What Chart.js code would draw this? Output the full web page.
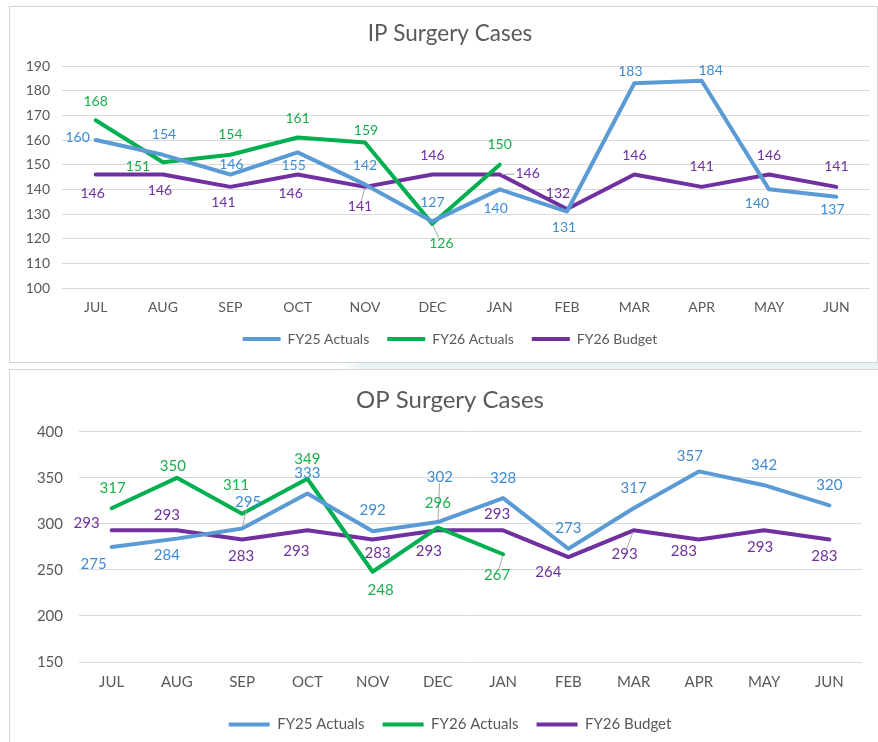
<!DOCTYPE html>
<html>
<head>
<meta charset="utf-8">
<script src="https://cdn.jsdelivr.net/npm/chart.js@4.4.1/dist/chart.umd.min.js"></script>
<style>
html,body{margin:0;padding:0;background:#fff;width:878px;height:742px;overflow:hidden;font-family:Lato,sans-serif}
.panel{position:absolute;border:1px solid #d4d4d4;box-sizing:border-box;background:#fff}
#p1{left:9px;top:6px;width:869px;height:357px}
#p2{left:9px;top:369px;width:872px;height:380px}
#strip{position:absolute;left:340px;top:363px;width:538px;height:6px;background:linear-gradient(90deg,#ffffff 0px,#e8f5f5 20px,#e8f5f5 100%)}
canvas{position:absolute}
#c1{left:9px;top:6px}
#c2{left:9px;top:370px}
</style>
</head>
<body>
<div id="strip"></div>
<div class="panel" id="p1"></div>
<div class="panel" id="p2"></div>
<canvas id="c1" width="869" height="356"></canvas>
<canvas id="c2" width="869" height="372"></canvas>
<script>
// ---------- data ----------
const months = ['JUL','AUG','SEP','OCT','NOV','DEC','JAN','FEB','MAR','APR','MAY','JUN'];
const seriesNames = ['FY25 Actuals','FY26 Actuals','FY26 Budget'];

const ipFY25   = [160,154,146,155,142,127,140,131,183,184,140,137];
const ipFY26   = [168,151,154,161,159,126,150,null,null,null,null,null];
const ipBudget = [146,146,141,146,141,146,146,132,146,141,146,141];

const opFY25   = [275,284,295,333,292,302,328,273,317,357,342,320];
const opFY26   = [317,350,311,349,248,296,267,null,null,null,null,null];
const opBudget = [293,293,283,293,283,293,293,264,293,283,293,283];

const ipAxis = {min:100, max:190, step:10};
const opAxis = {min:150, max:400, step:50};

// ---------- label placement (offsets of value labels from their points) ----------
const ipLabelOffsets = {
  fy25: [[-18,-3],[1,-20],[1,-10],[-4,13],[0,-19],[0,-19],[-4,19],[-3,16],[-4,-12],[9,-10],[-12,14],[-4,13]],
  fy26: [[0,-19],[-25,4],[0,-20],[0,-19],[1,-12],[9,20],[0,-20]],
  bud:  [[-3,19],[-3,16],[-7,16],[-7,19],[-5,20],[0,-19],[28,-1],[-9,-16],[0,-19],[0,-20],[0,-19],[0,-20]]
};
const ipLeaders = {fy25:[], fy26:[5], bud:[4,6]};
const opLabelOffsets = {
  fy25: [[-18,17],[-10,17],[6,-26],[0,-20],[0,-21],[2,-45],[0,-20],[0,-21],[0,-20],[-9,-15],[0,-20],[0,-20]],
  fy26: [[1,-20],[-4,-12],[-6,-29],[0,-20],[8,18],[0,-24],[-6,21]],
  bud:  [[-25,-7],[-10,-15],[-1,17],[-11,21],[5,14],[-9,21],[-6,-16],[-20,15],[-9,24],[-15,12],[-4,17],[-5,17]]
};
const opLeaders = {fy25:[2,5], fy26:[6], bud:[8]};

// ---------- styles ----------
const COLORS = {fy25:'#5B9BD5', fy26:'#00B050', bud:'#7030A0'};
const LABEL_COLORS = {fy25:'#3F8BD2', fy26:'#19AF4C', bud:'#7030A0'};
const TEXT = '#595959';
const GRID = '#D9D9D9';

Chart.defaults.font.family = 'Lato';

const valueLabels = {
  id: 'valueLabels',
  afterLayout(chart) {
    // let the y tick labels extend left of the axis box without being clipped
    chart.scales.y.left = 0;
  },
  afterDatasetsDraw(chart, args, opts) {
    const ctx = chart.ctx;
    chart.data.datasets.forEach((ds, i) => {
      const meta = chart.getDatasetMeta(i);
      if (!chart.isDatasetVisible(i)) return;
      ctx.save();
      ctx.font = opts.size + 'px Lato';
      ctx.textAlign = 'center';
      ctx.textBaseline = 'middle';
      meta.data.forEach((pt, j) => {
        const v = ds.data[j];
        if (v === null || v === undefined) return;
        const off = ds.labelOffsets[j];
        const lx = pt.x + off[0], ly = pt.y + off[1];
        if (ds.leaders.includes(j)) {
          const w = ctx.measureText(String(v)).width / 2 + 1, h = opts.size * 0.42;
          const vx = pt.x - lx, vy = pt.y - ly;
          const s = Math.min(vx ? w / Math.abs(vx) : Infinity, vy ? h / Math.abs(vy) : Infinity);
          if (s < 1) {
            const len = Math.hypot(vx, vy);
            ctx.strokeStyle = '#A6A6A6';
            ctx.lineWidth = 1;
            ctx.beginPath();
            ctx.moveTo(lx + vx * s, ly + vy * s);
            ctx.lineTo(pt.x - vx / len * 2, pt.y - vy / len * 2);
            ctx.stroke();
          }
        }
        ctx.fillStyle = ds.labelColor;
        ctx.fillText(String(v), lx, ly);
      });
      ctx.restore();
    });
  }
};

function makeDataset(label, data, key, offsets, leaders) {
  return {
    label, data,
    borderColor: COLORS[key], backgroundColor: COLORS[key],
    borderWidth: 4, pointRadius: 0, pointHoverRadius: 0, tension: 0,
    borderJoinStyle: 'round', borderCapStyle: 'round', spanGaps: false,
    labelColor: LABEL_COLORS[key], labelOffsets: offsets[key], leaders: leaders[key]
  };
}

function makeChart(canvasId, title, fy25, fy26, bud, axis, offsets, leaders, L) {
  return new Chart(document.getElementById(canvasId), {
    type: 'line',
    data: {
      labels: months,
      datasets: [
        makeDataset(seriesNames[0], fy25, 'fy25', offsets, leaders),
        makeDataset(seriesNames[1], fy26, 'fy26', offsets, leaders),
        makeDataset(seriesNames[2], bud, 'bud', offsets, leaders)
      ]
    },
    options: {
      responsive: false, animation: false, devicePixelRatio: 1,
      events: [],
      layout: {padding: {left: L.padLeft, right: L.padRight, top: 0, bottom: L.padBottom}},
      plugins: {
        title: {display: true, text: title, color: TEXT,
                font: {size: L.titleSize, weight: 'normal', family: 'Lato'},
                padding: {top: L.titleTop, bottom: L.titleBottom}},
        legend: {position: 'bottom',
          labels: {
            boxWidth: L.legendBox, boxHeight: 4, padding: L.legendPad, color: TEXT,
            font: {size: L.legendSize, family: 'Lato'},
            generateLabels(chart) {
              return Chart.defaults.plugins.legend.labels.generateLabels(chart)
                .map(it => Object.assign({}, it, {lineWidth: 0, fillStyle: it.strokeStyle}));
            }
          }},
        tooltip: {enabled: false},
        valueLabels: {size: L.labelSize}
      },
      scales: {
        x: {offset: true, grid: {display: false, drawTicks: false}, border: {display: false},
            ticks: {color: TEXT, font: {size: L.tickSize}, padding: L.xPad, maxRotation: 0, autoSkip: false},
            afterFit(s) { s.height = L.xHeight; }},
        y: {min: axis.min, max: axis.max,
            grid: {color: GRID, lineWidth: 1, drawTicks: false}, border: {display: false},
            ticks: {stepSize: axis.step, color: TEXT, font: {size: L.tickSize}, padding: L.yPad},
            afterFit(s) { s.width = L.yWidth; }}
      }
    },
    plugins: [valueLabels]
  });
}

makeChart('c1', 'IP Surgery Cases', ipFY25, ipFY26, ipBudget, ipAxis, ipLabelOffsets, ipLeaders,
  {padLeft: 21, padRight: 8, padBottom: 6, titleSize: 22.5, titleTop: 14, titleBottom: 19,
   legendPad: 18, legendBox: 38, legendSize: 14, labelSize: 14, tickSize: 14, xPad: 11, xHeight: 26, yPad: 12, yWidth: 32});

makeChart('c2', 'OP Surgery Cases', opFY25, opFY26, opBudget, opAxis, opLabelOffsets, opLeaders,
  {padLeft: 29, padRight: 16, padBottom: 0, titleSize: 24, titleTop: 16, titleBottom: 17,
   legendPad: 18, legendBox: 41, legendSize: 15, labelSize: 15, tickSize: 15, xPad: 11, xHeight: 37, yPad: 16, yWidth: 41});
</script>
</body>
</html>
